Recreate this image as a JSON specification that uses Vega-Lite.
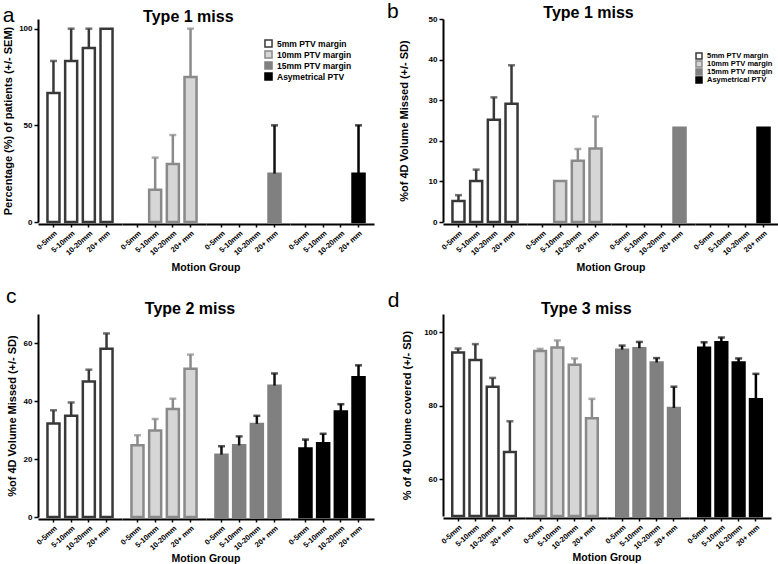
{
  "$schema": "https://vega.github.io/schema/vega-lite/v6.json",
  "padding": {"left": 2, "top": 0, "right": 2, "bottom": 0},
  "background": "white",
  "datasets": {
    "a": [
      {"Margin": "5mm PTV margin", "Motion": "0-5mm", "value": 66.7, "upper": 83.3},
      {"Margin": "5mm PTV margin", "Motion": "5-10mm", "value": 83.3, "upper": 100},
      {"Margin": "5mm PTV margin", "Motion": "10-20mm", "value": 90, "upper": 100},
      {"Margin": "5mm PTV margin", "Motion": "20+ mm", "value": 100, "upper": null},
      {"Margin": "10mm PTV margin", "Motion": "0-5mm", "value": 0, "upper": null},
      {"Margin": "10mm PTV margin", "Motion": "5-10mm", "value": 16.7, "upper": 33.3},
      {"Margin": "10mm PTV margin", "Motion": "10-20mm", "value": 30, "upper": 45},
      {"Margin": "10mm PTV margin", "Motion": "20+ mm", "value": 75, "upper": 100},
      {"Margin": "15mm PTV margin", "Motion": "0-5mm", "value": 0, "upper": null},
      {"Margin": "15mm PTV margin", "Motion": "5-10mm", "value": 0, "upper": null},
      {"Margin": "15mm PTV margin", "Motion": "10-20mm", "value": 0, "upper": null},
      {"Margin": "15mm PTV margin", "Motion": "20+ mm", "value": 25, "upper": 50},
      {"Margin": "Asymetrical PTV", "Motion": "0-5mm", "value": 0, "upper": null},
      {"Margin": "Asymetrical PTV", "Motion": "5-10mm", "value": 0, "upper": null},
      {"Margin": "Asymetrical PTV", "Motion": "10-20mm", "value": 0, "upper": null},
      {"Margin": "Asymetrical PTV", "Motion": "20+ mm", "value": 25, "upper": 50}
    ],
    "b": [
      {"Margin": "5mm PTV margin", "Motion": "0-5mm", "value": 5.2, "upper": 6.6},
      {"Margin": "5mm PTV margin", "Motion": "5-10mm", "value": 10.1, "upper": 12.9},
      {"Margin": "5mm PTV margin", "Motion": "10-20mm", "value": 25.2, "upper": 30.7},
      {"Margin": "5mm PTV margin", "Motion": "20+ mm", "value": 29.1, "upper": 38.6},
      {"Margin": "10mm PTV margin", "Motion": "0-5mm", "value": 0, "upper": null},
      {"Margin": "10mm PTV margin", "Motion": "5-10mm", "value": 10.1, "upper": null},
      {"Margin": "10mm PTV margin", "Motion": "10-20mm", "value": 15.1, "upper": 18.0},
      {"Margin": "10mm PTV margin", "Motion": "20+ mm", "value": 18.1, "upper": 26.0},
      {"Margin": "15mm PTV margin", "Motion": "0-5mm", "value": 0, "upper": null},
      {"Margin": "15mm PTV margin", "Motion": "5-10mm", "value": 0, "upper": null},
      {"Margin": "15mm PTV margin", "Motion": "10-20mm", "value": 0, "upper": null},
      {"Margin": "15mm PTV margin", "Motion": "20+ mm", "value": 23.2, "upper": null},
      {"Margin": "Asymetrical PTV", "Motion": "0-5mm", "value": 0, "upper": null},
      {"Margin": "Asymetrical PTV", "Motion": "5-10mm", "value": 0, "upper": null},
      {"Margin": "Asymetrical PTV", "Motion": "10-20mm", "value": 0, "upper": null},
      {"Margin": "Asymetrical PTV", "Motion": "20+ mm", "value": 23.2, "upper": null}
    ],
    "c": [
      {"Margin": "5mm PTV margin", "Motion": "0-5mm", "value": 32.2, "upper": 36.8},
      {"Margin": "5mm PTV margin", "Motion": "5-10mm", "value": 34.9, "upper": 39.5},
      {"Margin": "5mm PTV margin", "Motion": "10-20mm", "value": 46.7, "upper": 50.8},
      {"Margin": "5mm PTV margin", "Motion": "20+ mm", "value": 58.0, "upper": 63.3},
      {"Margin": "10mm PTV margin", "Motion": "0-5mm", "value": 24.7, "upper": 28.2},
      {"Margin": "10mm PTV margin", "Motion": "5-10mm", "value": 29.8, "upper": 33.8},
      {"Margin": "10mm PTV margin", "Motion": "10-20mm", "value": 37.2, "upper": 40.8},
      {"Margin": "10mm PTV margin", "Motion": "20+ mm", "value": 51.1, "upper": 56.0},
      {"Margin": "15mm PTV margin", "Motion": "0-5mm", "value": 21.5, "upper": 24.4},
      {"Margin": "15mm PTV margin", "Motion": "5-10mm", "value": 24.7, "upper": 27.8},
      {"Margin": "15mm PTV margin", "Motion": "10-20mm", "value": 32.1, "upper": 34.9},
      {"Margin": "15mm PTV margin", "Motion": "20+ mm", "value": 45.3, "upper": 49.5},
      {"Margin": "Asymetrical PTV", "Motion": "0-5mm", "value": 23.6, "upper": 26.7},
      {"Margin": "Asymetrical PTV", "Motion": "5-10mm", "value": 25.4, "upper": 28.7},
      {"Margin": "Asymetrical PTV", "Motion": "10-20mm", "value": 36.4, "upper": 38.9},
      {"Margin": "Asymetrical PTV", "Motion": "20+ mm", "value": 48.2, "upper": 52.3}
    ],
    "d": [
      {"Margin": "5mm PTV margin", "Motion": "0-5mm", "value": 94.5, "upper": 95.6},
      {"Margin": "5mm PTV margin", "Motion": "5-10mm", "value": 92.5, "upper": 96.8},
      {"Margin": "5mm PTV margin", "Motion": "10-20mm", "value": 85.2, "upper": 87.6},
      {"Margin": "5mm PTV margin", "Motion": "20+ mm", "value": 67.4, "upper": 75.8},
      {"Margin": "10mm PTV margin", "Motion": "0-5mm", "value": 94.9, "upper": 95.5},
      {"Margin": "10mm PTV margin", "Motion": "5-10mm", "value": 95.9, "upper": 97.8},
      {"Margin": "10mm PTV margin", "Motion": "10-20mm", "value": 91.2, "upper": 92.9},
      {"Margin": "10mm PTV margin", "Motion": "20+ mm", "value": 76.6, "upper": 81.9},
      {"Margin": "15mm PTV margin", "Motion": "0-5mm", "value": 95.3, "upper": 96.4},
      {"Margin": "15mm PTV margin", "Motion": "5-10mm", "value": 95.7, "upper": 97.4},
      {"Margin": "15mm PTV margin", "Motion": "10-20mm", "value": 91.8, "upper": 93.0},
      {"Margin": "15mm PTV margin", "Motion": "20+ mm", "value": 79.4, "upper": 85.2},
      {"Margin": "Asymetrical PTV", "Motion": "0-5mm", "value": 95.8, "upper": 97.3},
      {"Margin": "Asymetrical PTV", "Motion": "5-10mm", "value": 97.3, "upper": 98.6},
      {"Margin": "Asymetrical PTV", "Motion": "10-20mm", "value": 91.8, "upper": 92.9},
      {"Margin": "Asymetrical PTV", "Motion": "20+ mm", "value": 81.8, "upper": 88.7}
    ]
  },
  "vconcat": [
    {
      "spacing": 13,
      "resolve": {"legend": {"fill": "independent", "stroke": "independent"}},
      "hconcat": [
        {
          "title": {"text": "a", "anchor": "start", "fontSize": 21, "fontWeight": "normal", "dy": 17, "offset": 0},
          "resolve": {"legend": {"fill": "independent", "stroke": "independent"}},
          "vconcat": [
            {
              "data": {"name": "a"},
              "title": {"text": "Type 1 miss", "anchor": "middle", "fontSize": 16, "fontWeight": "bold", "offset": -5.5},
              "spacing": {"column": 0},
              "facet": {"column": {"field": "Margin", "type": "nominal", "sort": ["5mm PTV margin", "10mm PTV margin", "15mm PTV margin", "Asymetrical PTV"], "header": {"labels": false, "title": "Motion Group", "titleOrient": "bottom", "titlePadding": -4}}},
              "spec": {
                "width": 84, "height": 203,
                "encoding": {
                  "x": {"field": "Motion", "type": "nominal", "sort": ["0-5mm", "5-10mm", "10-20mm", "20+ mm"], "scale": {"domain": ["0-5mm", "5-10mm", "10-20mm", "20+ mm"], "paddingInner": 0.32, "paddingOuter": 0.535}, "axis": {"title": null, "labelAngle": -42, "labelFontSize": 7.5, "tickSize": 3}}
                },
                "layer": [
                  {
                    "transform": [{"filter": "datum.value > 0"}],
                    "mark": {"type": "bar", "strokeWidth": 2.5},
                    "encoding": {
                      "y": {"field": "value", "type": "quantitative", "scale": {"domain": [0, 105], "nice": false}, "axis": {"title": "Percentage (%) of patients (+/- SEM)", "values": [0, 50, 100], "titlePadding": 5}},
                      "fill": {"field": "Margin", "type": "nominal", "scale": {"domain": ["5mm PTV margin", "10mm PTV margin", "15mm PTV margin", "Asymetrical PTV"], "range": ["#ffffff", "#d6d6d6", "#808080", "#000000"]}, "legend": {"orient": "none", "legendX": 226, "legendY": 19, "title": null, "symbolType": "square", "symbolSize": 50, "symbolStrokeWidth": 1.5, "labelFontSize": 8.5, "rowPadding": 0, "clipHeight": 11}},
                      "stroke": {"field": "Margin", "type": "nominal", "scale": {"domain": ["5mm PTV margin", "10mm PTV margin", "15mm PTV margin", "Asymetrical PTV"], "range": ["#383838", "#8a8a8a", "#808080", "#000000"]}, "legend": {"orient": "none", "legendX": 226, "legendY": 19, "title": null, "symbolType": "square", "symbolSize": 50, "symbolStrokeWidth": 1.5, "labelFontSize": 8.5, "rowPadding": 0, "clipHeight": 11}}
                    }
                  },
                  {
                    "transform": [{"filter": "isValid(datum.upper)"}],
                    "mark": {"type": "rule", "strokeWidth": 2.5},
                    "encoding": {
                      "y": {"field": "value", "type": "quantitative", "axis": {"title": "Percentage (%) of patients (+/- SEM)"}},
                      "y2": {"field": "upper"},
                      "color": {"field": "Margin", "type": "nominal", "scale": {"domain": ["5mm PTV margin", "10mm PTV margin", "15mm PTV margin", "Asymetrical PTV"], "range": ["#383838", "#8a8a8a", "#111111", "#000000"]}, "legend": null}
                    }
                  },
                  {
                    "transform": [{"filter": "isValid(datum.upper)"}],
                    "mark": {"type": "tick", "thickness": 2.5, "size": 7},
                    "encoding": {
                      "y": {"field": "upper", "type": "quantitative", "axis": {"title": "Percentage (%) of patients (+/- SEM)"}},
                      "color": {"field": "Margin", "type": "nominal", "scale": {"domain": ["5mm PTV margin", "10mm PTV margin", "15mm PTV margin", "Asymetrical PTV"], "range": ["#383838", "#8a8a8a", "#111111", "#000000"]}, "legend": null}
                    }
                  }
                ]
              }
            }
          ]
        },
        {
          "title": {"text": "b", "anchor": "start", "fontSize": 21, "fontWeight": "normal", "dy": 17, "offset": 0, "dx": -11},
          "resolve": {"legend": {"fill": "independent", "stroke": "independent"}},
          "vconcat": [
            {
              "data": {"name": "b"},
              "title": {"text": "Type 1 miss", "anchor": "middle", "fontSize": 16, "fontWeight": "bold", "offset": -5.5},
              "spacing": {"column": 0},
              "facet": {"column": {"field": "Margin", "type": "nominal", "sort": ["5mm PTV margin", "10mm PTV margin", "15mm PTV margin", "Asymetrical PTV"], "header": {"labels": false, "title": "Motion Group", "titleOrient": "bottom", "titlePadding": -4}}},
              "spec": {
                "width": 84, "height": 203,
                "encoding": {
                  "x": {"field": "Motion", "type": "nominal", "sort": ["0-5mm", "5-10mm", "10-20mm", "20+ mm"], "scale": {"domain": ["0-5mm", "5-10mm", "10-20mm", "20+ mm"], "paddingInner": 0.32, "paddingOuter": 0.535}, "axis": {"title": null, "labelAngle": -42, "labelFontSize": 7.5, "tickSize": 3}}
                },
                "layer": [
                  {
                    "transform": [{"filter": "datum.value > 0"}],
                    "mark": {"type": "bar", "strokeWidth": 2.5},
                    "encoding": {
                      "y": {"field": "value", "type": "quantitative", "scale": {"domain": [0, 50], "nice": false}, "axis": {"title": "%of 4D Volume Missed (+/- SD)", "values": [0, 10, 20, 30, 40, 50], "titlePadding": 19}},
                      "fill": {"field": "Margin", "type": "nominal", "scale": {"domain": ["5mm PTV margin", "10mm PTV margin", "15mm PTV margin", "Asymetrical PTV"], "range": ["#ffffff", "#d6d6d6", "#808080", "#000000"]}, "legend": {"orient": "none", "legendX": 252, "legendY": 33, "title": null, "symbolType": "square", "symbolSize": 36, "symbolStrokeWidth": 1.5, "labelFontSize": 7.5, "rowPadding": 0, "clipHeight": 8}},
                      "stroke": {"field": "Margin", "type": "nominal", "scale": {"domain": ["5mm PTV margin", "10mm PTV margin", "15mm PTV margin", "Asymetrical PTV"], "range": ["#383838", "#8a8a8a", "#808080", "#000000"]}, "legend": {"orient": "none", "legendX": 252, "legendY": 33, "title": null, "symbolType": "square", "symbolSize": 36, "symbolStrokeWidth": 1.5, "labelFontSize": 7.5, "rowPadding": 0, "clipHeight": 8}}
                    }
                  },
                  {
                    "transform": [{"filter": "isValid(datum.upper)"}],
                    "mark": {"type": "rule", "strokeWidth": 2.5},
                    "encoding": {
                      "y": {"field": "value", "type": "quantitative", "axis": {"title": "%of 4D Volume Missed (+/- SD)"}},
                      "y2": {"field": "upper"},
                      "color": {"field": "Margin", "type": "nominal", "scale": {"domain": ["5mm PTV margin", "10mm PTV margin", "15mm PTV margin", "Asymetrical PTV"], "range": ["#383838", "#8a8a8a", "#111111", "#000000"]}, "legend": null}
                    }
                  },
                  {
                    "transform": [{"filter": "isValid(datum.upper)"}],
                    "mark": {"type": "tick", "thickness": 2.5, "size": 7},
                    "encoding": {
                      "y": {"field": "upper", "type": "quantitative", "axis": {"title": "%of 4D Volume Missed (+/- SD)"}},
                      "color": {"field": "Margin", "type": "nominal", "scale": {"domain": ["5mm PTV margin", "10mm PTV margin", "15mm PTV margin", "Asymetrical PTV"], "range": ["#383838", "#8a8a8a", "#111111", "#000000"]}, "legend": null}
                    }
                  }
                ]
              }
            }
          ]
        }
      ]
    },
    {
      "spacing": 13,
      "hconcat": [
        {
          "title": {"text": "c", "anchor": "start", "fontSize": 21, "fontWeight": "normal", "dy": 6, "offset": 0},
          "vconcat": [
            {
              "data": {"name": "c"},
              "title": {"text": "Type 2 miss", "anchor": "middle", "fontSize": 16, "fontWeight": "bold", "offset": -2.5},
              "spacing": {"column": 0},
              "facet": {"column": {"field": "Margin", "type": "nominal", "sort": ["5mm PTV margin", "10mm PTV margin", "15mm PTV margin", "Asymetrical PTV"], "header": {"labels": false, "title": "Motion Group", "titleOrient": "bottom", "titlePadding": -8}}},
              "spec": {
                "width": 84, "height": 203,
                "encoding": {
                  "x": {"field": "Motion", "type": "nominal", "sort": ["0-5mm", "5-10mm", "10-20mm", "20+ mm"], "scale": {"domain": ["0-5mm", "5-10mm", "10-20mm", "20+ mm"], "paddingInner": 0.32, "paddingOuter": 0.535}, "axis": {"title": null, "labelAngle": -42, "labelFontSize": 7.5, "tickSize": 3}}
                },
                "layer": [
                  {
                    "mark": {"type": "bar", "strokeWidth": 2.5},
                    "encoding": {
                      "y": {"field": "value", "type": "quantitative", "scale": {"domain": [0, 70], "nice": false}, "axis": {"title": "%of 4D Volume Missed (+/- SD)", "values": [0, 20, 40, 60], "titlePadding": 6}},
                      "fill": {"field": "Margin", "type": "nominal", "scale": {"domain": ["5mm PTV margin", "10mm PTV margin", "15mm PTV margin", "Asymetrical PTV"], "range": ["#ffffff", "#d6d6d6", "#808080", "#000000"]}, "legend": null},
                      "stroke": {"field": "Margin", "type": "nominal", "scale": {"domain": ["5mm PTV margin", "10mm PTV margin", "15mm PTV margin", "Asymetrical PTV"], "range": ["#383838", "#8a8a8a", "#808080", "#000000"]}, "legend": null}
                    }
                  },
                  {
                    "transform": [{"filter": "isValid(datum.upper)"}],
                    "mark": {"type": "rule", "strokeWidth": 2.5},
                    "encoding": {
                      "y": {"field": "value", "type": "quantitative", "axis": {"title": "%of 4D Volume Missed (+/- SD)"}},
                      "y2": {"field": "upper"},
                      "color": {"field": "Margin", "type": "nominal", "scale": {"domain": ["5mm PTV margin", "10mm PTV margin", "15mm PTV margin", "Asymetrical PTV"], "range": ["#383838", "#8a8a8a", "#111111", "#000000"]}, "legend": null}
                    }
                  },
                  {
                    "transform": [{"filter": "isValid(datum.upper)"}],
                    "mark": {"type": "tick", "thickness": 2.5, "size": 7},
                    "encoding": {
                      "y": {"field": "upper", "type": "quantitative", "axis": {"title": "%of 4D Volume Missed (+/- SD)"}},
                      "color": {"field": "Margin", "type": "nominal", "scale": {"domain": ["5mm PTV margin", "10mm PTV margin", "15mm PTV margin", "Asymetrical PTV"], "range": ["#383838", "#8a8a8a", "#111111", "#000000"]}, "legend": null}
                    }
                  }
                ]
              }
            }
          ]
        },
        {
          "title": {"text": "d", "anchor": "start", "fontSize": 21, "fontWeight": "normal", "dy": 10, "offset": 0, "dx": -14},
          "vconcat": [
            {
              "data": {"name": "d"},
              "title": {"text": "Type 3 miss", "anchor": "middle", "fontSize": 16, "fontWeight": "bold", "offset": -2.5},
              "spacing": {"column": 0},
              "facet": {"column": {"field": "Margin", "type": "nominal", "sort": ["5mm PTV margin", "10mm PTV margin", "15mm PTV margin", "Asymetrical PTV"], "header": {"labels": false, "title": "Motion Group", "titleOrient": "bottom", "titlePadding": -8}}},
              "spec": {
                "width": 82, "height": 202,
                "encoding": {
                  "x": {"field": "Motion", "type": "nominal", "sort": ["0-5mm", "5-10mm", "10-20mm", "20+ mm"], "scale": {"domain": ["0-5mm", "5-10mm", "10-20mm", "20+ mm"], "paddingInner": 0.32, "paddingOuter": 0.535}, "axis": {"title": null, "labelAngle": -42, "labelFontSize": 7.5, "tickSize": 3}}
                },
                "layer": [
                  {
                    "mark": {"type": "bar", "strokeWidth": 2.5},
                    "encoding": {
                      "y": {"field": "value", "type": "quantitative", "scale": {"domain": [50, 105], "nice": false, "zero": false}, "axis": {"title": "% of 4D Volume covered (+/- SD)", "values": [60, 80, 100], "titlePadding": 11}},
                      "y2": {"datum": 50},
                      "fill": {"field": "Margin", "type": "nominal", "scale": {"domain": ["5mm PTV margin", "10mm PTV margin", "15mm PTV margin", "Asymetrical PTV"], "range": ["#ffffff", "#d6d6d6", "#808080", "#000000"]}, "legend": null},
                      "stroke": {"field": "Margin", "type": "nominal", "scale": {"domain": ["5mm PTV margin", "10mm PTV margin", "15mm PTV margin", "Asymetrical PTV"], "range": ["#383838", "#8a8a8a", "#808080", "#000000"]}, "legend": null}
                    }
                  },
                  {
                    "transform": [{"filter": "isValid(datum.upper)"}],
                    "mark": {"type": "rule", "strokeWidth": 2.5},
                    "encoding": {
                      "y": {"field": "value", "type": "quantitative", "axis": {"title": "% of 4D Volume covered (+/- SD)"}},
                      "y2": {"field": "upper"},
                      "color": {"field": "Margin", "type": "nominal", "scale": {"domain": ["5mm PTV margin", "10mm PTV margin", "15mm PTV margin", "Asymetrical PTV"], "range": ["#383838", "#8a8a8a", "#111111", "#000000"]}, "legend": null}
                    }
                  },
                  {
                    "transform": [{"filter": "isValid(datum.upper)"}],
                    "mark": {"type": "tick", "thickness": 2.5, "size": 7},
                    "encoding": {
                      "y": {"field": "upper", "type": "quantitative", "axis": {"title": "% of 4D Volume covered (+/- SD)"}},
                      "color": {"field": "Margin", "type": "nominal", "scale": {"domain": ["5mm PTV margin", "10mm PTV margin", "15mm PTV margin", "Asymetrical PTV"], "range": ["#383838", "#8a8a8a", "#111111", "#000000"]}, "legend": null}
                    }
                  }
                ]
              }
            }
          ]
        }
      ]
    }
  ],
  "spacing": 11,
  "config": {
    "font": "Liberation Sans",
    "view": {"stroke": null},
    "axis": {"grid": false, "domainColor": "#000000", "domainWidth": 2, "tickColor": "#000000", "tickWidth": 1.5, "labelColor": "#000000", "titleColor": "#000000", "labelFontWeight": "bold", "titleFontWeight": "bold", "labelFontSize": 8, "titleFontSize": 11, "tickSize": 4, "labelPadding": 2},
    "header": {"titleFontSize": 10.5, "titleFontWeight": "bold", "titleColor": "#000000", "labelPadding": 0},
    "legend": {"labelFontWeight": "bold", "labelColor": "#000000"},
    "title": {"color": "#000000", "font": "Liberation Sans"}
  }
}
